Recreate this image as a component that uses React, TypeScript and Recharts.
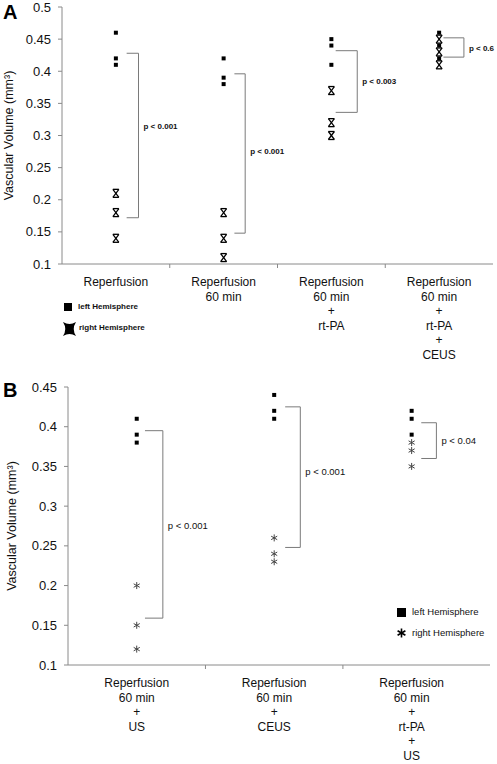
import React from 'react';
import { ScatterChart, Scatter, XAxis, YAxis, ReferenceLine, ReferenceDot } from 'recharts';

const FONT = '"Liberation Sans", Arial, Helvetica, sans-serif';

// Panel A
const A_CATS = [
  ['Reperfusion'],
  ['Reperfusion', '60 min'],
  ['Reperfusion', '60 min', '+', 'rt-PA'],
  ['Reperfusion', '60 min', '+', 'rt-PA', '+', 'CEUS'],
];
const A_LEFT = [
  [0.46, 0.42, 0.41],
  [0.42, 0.39, 0.38],
  [0.45, 0.44, 0.41],
  [0.46, 0.44, 0.42],
];
const A_RIGHT = [
  [0.21, 0.18, 0.14],
  [0.18, 0.14, 0.11],
  [0.37, 0.32, 0.3],
  [0.45, 0.43, 0.41],
];
const A_Y_TICKS = [0.1, 0.15, 0.2, 0.25, 0.3, 0.35, 0.4, 0.45, 0.5];
const A_P_TOP = [0.428, 0.396, 0.432, 0.452];
const A_P_BOTTOM = [0.172, 0.148, 0.336, 0.422];
const A_P_TEXT = ['p < 0.001', 'p < 0.001', 'p < 0.003', 'p < 0.6'];
const A_P_TEXT_Y = [0.315, 0.276, 0.385, 0.436];

// Panel B
const B_CATS = [
  ['Reperfusion', '60 min', '+', 'US'],
  ['Reperfusion', '60 min', '+', 'CEUS'],
  ['Reperfusion', '60 min', '+', 'rt-PA', '+', 'US'],
];
const B_LEFT = [
  [0.41, 0.39, 0.38],
  [0.44, 0.42, 0.41],
  [0.42, 0.41, 0.39],
];
const B_RIGHT = [
  [0.2, 0.15, 0.12],
  [0.26, 0.24, 0.23],
  [0.38, 0.37, 0.35],
];
const B_Y_TICKS = [0.1, 0.15, 0.2, 0.25, 0.3, 0.35, 0.4, 0.45];
const B_P_TOP = [0.395, 0.425, 0.405];
const B_P_BOTTOM = [0.159, 0.248, 0.36];
const B_P_TEXT = ['p < 0.001', 'p < 0.001', 'p < 0.04'];
const B_P_TEXT_Y = [0.275, 0.344, 0.382];

// bracket start / end, offset inside each category slot
const A_BR_X = [[0.6, 0.71], [0.6, 0.7], [0.54, 0.74], [0.54, 0.73]];
const B_BR_X = [[0.56, 0.69], [0.58, 0.69], [0.57, 0.68]];

const AXIS = '#8a8a8a';
const BRACKET = '#7a7a7a';

const toPoints = (groups: number[][]) =>
  groups.flatMap((vals, i) => vals.map((v) => ({ x: i + 0.5, y: v })));

const Square = (p: any) => <rect x={p.cx - 2} y={p.cy - 2} width={4} height={4} fill="#000" />;

const Cross = (p: any) => {
  const { cx, cy } = p;
  return (
    <g stroke="#000" strokeWidth={1.3} fill="none">
      <line x1={cx - 3} y1={cy - 4} x2={cx + 3} y2={cy - 4} />
      <line x1={cx - 3} y1={cy + 4} x2={cx + 3} y2={cy + 4} />
      <line x1={cx - 3} y1={cy - 4} x2={cx + 3} y2={cy + 4} />
      <line x1={cx + 3} y1={cy - 4} x2={cx - 3} y2={cy + 4} />
    </g>
  );
};

const Star = (p: any) => {
  const { cx, cy } = p;
  const r = 3.5;
  return (
    <g stroke="#444" strokeWidth={1}>
      <line x1={cx} y1={cy - r} x2={cx} y2={cy + r} />
      <line x1={cx - r * 0.87} y1={cy - r / 2} x2={cx + r * 0.87} y2={cy + r / 2} />
      <line x1={cx - r * 0.87} y1={cy + r / 2} x2={cx + r * 0.87} y2={cy - r / 2} />
    </g>
  );
};

function CatTick(props: any) {
  const { x, y, payload, cats } = props;
  const v = payload.value;
  if (Number.isInteger(v)) return <line x1={x} x2={x} y1={y} y2={y + 4} stroke={AXIS} />;
  const lines: string[] = cats[Math.floor(v)];
  return (
    <text x={x} y={y + 22} textAnchor="middle" fontSize={12} fill="#111">
      {lines.map((l, i) => (
        <tspan key={i} x={x} dy={i === 0 ? 0 : 14.5}>
          {l}
        </tspan>
      ))}
    </text>
  );
}

function Brackets({ tops, bottoms, texts, textYs, xs, fontSize, bold }: any) {
  return tops.map((top: number, i: number) => {
    const x0 = i + xs[i][0];
    const x1 = i + xs[i][1];
    return [
      <ReferenceLine key={`t${i}`} segment={[{ x: x0, y: top }, { x: x1, y: top }]} stroke={BRACKET} />,
      <ReferenceLine key={`v${i}`} segment={[{ x: x1, y: top }, { x: x1, y: bottoms[i] }]} stroke={BRACKET} />,
      <ReferenceLine key={`b${i}`} segment={[{ x: x0, y: bottoms[i] }, { x: x1, y: bottoms[i] }]} stroke={BRACKET} />,
      <ReferenceDot
        key={`l${i}`}
        x={x1}
        y={textYs[i]}
        r={1}
        fill="none"
        stroke="none"
        label={{ value: texts[i], position: 'right', offset: 4, fontSize, fill: '#111', fontWeight: bold ? 600 : 400 }}
      />,
    ];
  });
}

function Panel(props: any) {
  const { width, height, cats, left, right, yTicks, yAxisW, xAxisH, xMax, rightShape, margin, labelOffset, children } = props;
  const xTicks: number[] = [];
  for (let i = 0; i < cats.length; i++) {
    xTicks.push(i + 0.5);
    if (i < cats.length - 1) xTicks.push(i + 1);
  }
  return (
    <ScatterChart width={width} height={height} margin={margin}>
      <XAxis
        type="number"
        dataKey="x"
        domain={[0, xMax]}
        ticks={xTicks}
        interval={0}
        tickSize={0}
        tickMargin={0}
        tickLine={false}
        height={xAxisH}
        stroke={AXIS}
        tick={(p: any) => <CatTick {...p} cats={cats} />}
      />
      <YAxis
        type="number"
        dataKey="y"
        domain={[yTicks[0], yTicks[yTicks.length - 1]]}
        ticks={yTicks}
        interval={0}
        width={yAxisW}
        tickSize={4}
        tickMargin={7}
        stroke={AXIS}
        tick={{ fontSize: 13, fill: '#111' }}
        label={{
          value: 'Vascular Volume (mm³)',
          angle: -90,
          position: 'insideLeft',
          offset: labelOffset,
          fontSize: 12.5,
          fill: '#111',
          style: { textAnchor: 'middle' },
        }}
      />
      <Scatter data={toPoints(left)} shape={Square} isAnimationActive={false} />
      <Scatter data={toPoints(right)} shape={rightShape} isAnimationActive={false} />
      {children}
    </ScatterChart>
  );
}

const legendText = (size: number, bold: boolean): React.CSSProperties => ({
  position: 'absolute',
  fontSize: size,
  lineHeight: `${size}px`,
  fontWeight: bold ? 700 : 400,
  color: '#111',
  whiteSpace: 'nowrap',
});

export default function App() {
  return (
    <div style={{ position: 'absolute', left: 0, top: 0, width: 497, height: 764, background: '#fff', fontFamily: FONT }}>
      <div style={{ position: 'absolute', left: 0, top: 0 }}>
        <Panel
          width={497}
          height={375}
          margin={{ top: 7, right: 4, bottom: 0, left: 0 }}
          cats={A_CATS}
          left={A_LEFT}
          right={A_RIGHT}
          yTicks={A_Y_TICKS}
          yAxisW={62}
          xAxisH={111}
          xMax={4}
          labelOffset={9}
          rightShape={Cross}
        >
          {Brackets({ tops: A_P_TOP, bottoms: A_P_BOTTOM, texts: A_P_TEXT, textYs: A_P_TEXT_Y, xs: A_BR_X, fontSize: 8, bold: true })}
        </Panel>
      </div>
      <div style={{ position: 'absolute', left: 0, top: 380 }}>
        <Panel
          width={497}
          height={384}
          margin={{ top: 7, right: 7, bottom: 0, left: 0 }}
          cats={B_CATS}
          left={B_LEFT}
          right={B_RIGHT}
          yTicks={B_Y_TICKS}
          yAxisW={68}
          xAxisH={99}
          xMax={3.07}
          labelOffset={12}
          rightShape={Star}
        >
          {Brackets({ tops: B_P_TOP, bottoms: B_P_BOTTOM, texts: B_P_TEXT, textYs: B_P_TEXT_Y, xs: B_BR_X, fontSize: 9.5, bold: false })}
        </Panel>
      </div>

      <div style={{ position: 'absolute', left: 3, top: 2, fontSize: 20, lineHeight: '20px', fontWeight: 700 }}>A</div>
      <div style={{ position: 'absolute', left: 3, top: 380, fontSize: 20, lineHeight: '20px', fontWeight: 700 }}>B</div>

      {/* legend A */}
      <div style={{ position: 'absolute', left: 64, top: 303, width: 8, height: 8, background: '#000' }} />
      <div style={{ ...legendText(8, true), left: 78, top: 303 }}>left Hemisphere</div>
      <svg style={{ position: 'absolute', left: 63, top: 322 }} width={13} height={14}>
        <path d="M0,0 Q6.5,4 13,0 Q8.5,7 13,14 Q6.5,10 0,14 Q4.5,7 0,0 Z" fill="#000" />
      </svg>
      <div style={{ ...legendText(8, true), left: 79, top: 324 }}>right Hemisphere</div>

      {/* legend B */}
      <div style={{ position: 'absolute', left: 397, top: 608, width: 9, height: 9, background: '#000' }} />
      <div style={{ ...legendText(9.5, false), left: 412, top: 607 }}>left Hemisphere</div>
      <svg style={{ position: 'absolute', left: 397, top: 628 }} width={9} height={10}>
        <g stroke="#000" strokeWidth={1.6}>
          <line x1={4.5} y1={0.5} x2={4.5} y2={9.5} />
          <line x1={0.6} y1={2.8} x2={8.4} y2={7.2} />
          <line x1={0.6} y1={7.2} x2={8.4} y2={2.8} />
        </g>
      </svg>
      <div style={{ ...legendText(9.5, false), left: 412, top: 628 }}>right Hemisphere</div>
    </div>
  );
}
